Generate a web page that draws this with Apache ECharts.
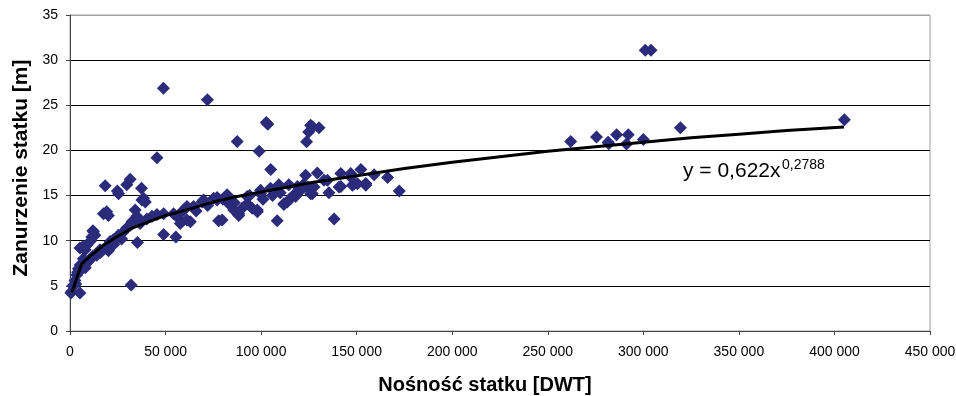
<!DOCTYPE html>
<html>
<head>
<meta charset="utf-8">
<script src="https://cdn.jsdelivr.net/npm/echarts@6/dist/echarts.min.js"></script>
<style>
  html, body { margin: 0; padding: 0; background: #fff; }
  #chart { width: 956px; height: 396px; }
</style>
</head>
<body>
<div id="chart"></div>
<script>
// nośność [DWT] i zanurzenie [m]
const dwt = [
  500, 900, 5200, 2600, 1500, 3500, 4400, 5300, 6000, 6600, 7900, 8700, 10500, 11400, 12300, 13000,
  7000, 9000, 10500, 12000, 14000, 15700, 18400, 20100, 21000, 22700, 25300, 28000, 29700, 31500,
  35300, 32000, 17500, 19200, 20100, 18400, 24800, 25400, 29700, 31500, 37400, 38500, 37600, 39400,
  34100, 35000, 32400, 36700, 40200, 42900, 45500, 49000, 45500, 48900, 49000, 55400, 27000, 23000,
  16000, 8000, 4000, 3000, 12000, 5200,
  54200, 56800, 57700, 58600, 59500, 61200, 61200, 63000, 64700, 69100, 69900, 75200, 77000, 77000,
  77800, 79600, 82200, 83100, 83900, 85700, 88300, 88300, 90100, 92700, 92700, 95300, 98000, 98000,
  99700, 99700, 104900, 105000, 108400, 108400, 109300, 111900, 111900, 113700, 114500, 115400,
  117200, 119000, 120700, 87500, 71900, 99000, 102700, 103500,
  125900, 130300, 124900, 123800, 127000,
  123300, 129400, 124200, 126800, 125900, 127700, 132900, 134700, 135500, 138200, 140800, 141700,
  141700, 146900, 146900, 147800, 148700, 150400, 152200, 154800, 154800, 159100, 166200, 172300,
  66000, 72000, 80000, 86000, 94000, 101000, 106000, 110000, 118000, 122000,
  262000, 275500, 281900, 286000, 292100, 291200, 300000, 301000, 304000, 319400, 405200, 281600
];
const draught = [
  4.2, 4.4, 4.2, 5.6, 5.0, 6.2, 6.9, 7.3, 6.8, 9.3, 9.0, 9.5, 9.9, 10.4, 11.0, 10.6,
  8.0, 7.6, 7.9, 8.3, 8.4, 9.0, 9.2, 8.9, 9.9, 10.1, 10.6, 11.0, 11.4, 11.7,
  9.8, 5.1, 13.0, 13.2, 12.8, 16.1, 15.5, 15.2, 16.2, 16.8, 15.8, 14.7, 14.5, 14.3,
  13.4, 12.7, 12.1, 11.9, 12.4, 12.7, 12.9, 13.0, 19.2, 26.9, 10.7, 10.4, 10.2, 9.6,
  8.7, 7.0, 6.5, 5.2, 11.1, 9.2,
  13.0, 12.5, 11.9, 13.2, 13.4, 13.8, 12.3, 12.1, 13.8, 14.3, 14.5, 14.7, 14.8, 14.5,
  12.2, 12.3, 15.1, 14.1, 14.5, 13.4, 12.8, 13.0, 13.6, 14.1, 14.9, 13.6, 13.2, 13.4,
  15.6, 15.2, 15.8, 17.9, 12.2, 15.6, 16.2, 14.0, 14.1, 14.3, 16.2, 14.7,
  15.1, 16.0, 15.6, 21.0, 25.6, 19.9, 23.1, 22.9,
  22.8, 22.5, 22.05, 20.95, 22.6,
  17.25, 17.5, 15.95, 15.2, 15.2, 15.95, 16.7, 16.7, 15.3, 12.4, 15.95, 17.45,
  16.0, 17.05, 17.45, 16.15, 16.3, 16.3, 17.9, 16.15, 16.35, 17.3, 17.0, 15.5,
  13.3, 13.9, 14.6, 14.2, 15.0, 14.6, 15.0, 15.3, 14.9, 16.2,
  21.0, 21.5, 20.75, 21.75, 21.75, 20.7, 21.2, 31.1, 31.1, 22.5, 23.4, 20.9
];
// linia trendu (potęgowa)
const trendX = [1000, 6000, 10000, 17500, 25000, 32500, 40000, 50000, 62500, 75000, 87500, 100000,
  125000, 150000, 175000, 200000, 225000, 250000, 275000, 300000, 325000, 350000, 375000, 405000];
const trendY = [4.3, 7.4, 8.2, 9.5, 10.5, 11.4, 12.0, 12.8, 13.5, 14.3, 14.9, 15.4,
  16.4, 17.2, 18.0, 18.7, 19.3, 19.9, 20.4, 20.9, 21.4, 21.8, 22.2, 22.6];
const xTicks = [0, 50000, 100000, 150000, 200000, 250000, 300000, 350000, 400000, 450000];
const yTicks = [0, 5, 10, 15, 20, 25, 30, 35];

const points = dwt.map((v, i) => [v, draught[i]]);
const trend = trendX.map((v, i) => [v, trendY[i]]);

const font = "'Liberation Sans', Arial, sans-serif";
const chart = echarts.init(document.getElementById('chart'));

chart.setOption({
  animation: false,
  grid: {
    left: 70, right: 26, top: 15, bottom: 65,
    outerBoundsMode: 'none',
    containLabel: false,
    show: true, borderColor: '#a0a0a0', borderWidth: 1
  },
  xAxis: {
    type: 'value',
    min: xTicks[0], max: xTicks[xTicks.length - 1], interval: 50000,
    name: 'Nośność statku [DWT]',
    nameLocation: 'middle', nameGap: 44,
    nameTextStyle: { fontFamily: font, fontSize: 20, fontWeight: 'bold', color: '#000', padding: [0, 30, 0, 0] },
    axisLine: { lineStyle: { color: '#444' } },
    axisTick: { length: 4, lineStyle: { color: '#444' } },
    axisLabel: {
      fontFamily: font, fontSize: 14, color: '#000', margin: 14,
      formatter: v => String(v).replace(/\B(?=(\d{3})+(?!\d))/g, ' ')
    },
    splitLine: { show: false }
  },
  yAxis: {
    type: 'value',
    min: yTicks[0], max: yTicks[yTicks.length - 1], interval: 5,
    name: 'Zanurzenie statku [m]',
    nameLocation: 'middle', nameGap: 37,
    nameTextStyle: { fontFamily: font, fontSize: 21, fontWeight: 'bold', color: '#000', padding: [0, 0, 0, 10] },
    axisLine: { show: true, lineStyle: { color: '#444' } },
    axisTick: { show: true, length: 4, lineStyle: { color: '#444' } },
    axisLabel: { fontFamily: font, fontSize: 14, color: '#000', margin: 12 },
    splitLine: {
      lineStyle: { color: ['#444', '#000', '#000', '#000', '#000', '#000', '#000', '#a0a0a0'], width: 1 }
    }
  },
  graphic: [
    {
      type: 'text', left: 683, top: 161, z: 100,
      style: { text: 'y = 0,622x', font: '21px ' + font, fill: '#000' }
    },
    {
      type: 'text', left: 782, top: 158, z: 100,
      style: { text: '0,2788', font: '14px ' + font, fill: '#000' }
    }
  ],
  series: [
    {
      type: 'scatter',
      data: points,
      symbol: 'diamond',
      symbolSize: 13,
      itemStyle: { color: '#2b2b7b', opacity: 1 },
      z: 2
    },
    {
      type: 'line',
      data: trend,
      showSymbol: false,
      symbol: 'none',
      lineStyle: { color: '#000', width: 3 },
      z: 3
    }
  ]
});
</script>
</body>
</html>
